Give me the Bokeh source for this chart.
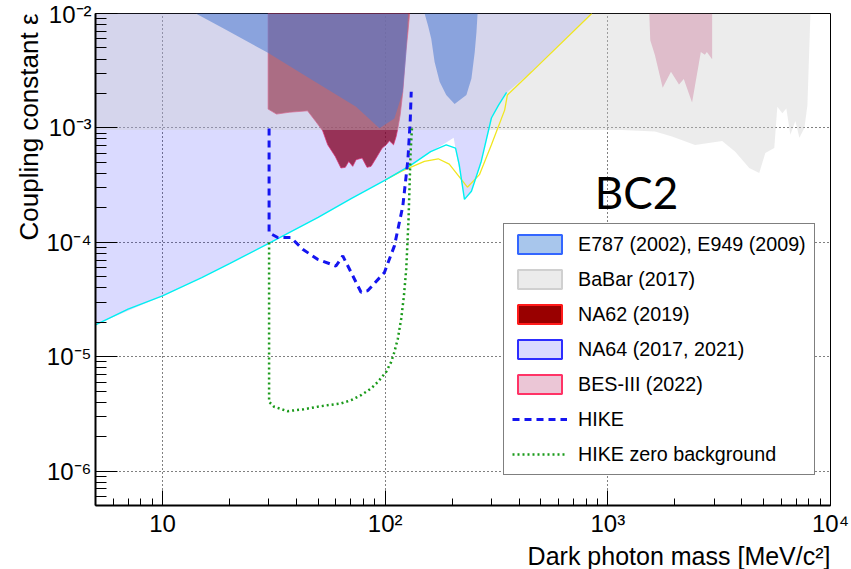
from bokeh.plotting import figure
from bokeh.models import FixedTicker, Legend, LegendItem, Label, Title
from bokeh.embed import file_html
from bokeh.resources import INLINE

# ---------------- exclusion regions (mass in MeV/c^2, coupling epsilon) ----------------
# NA64 (2017) bound, drawn as the cyan curve
na64_mass = [5, 7, 10, 15, 20, 30, 50, 70, 100, 130, 160, 188, 207, 215, 227, 244, 270, 300, 323, 351]
na64_eps = [1.9e-5, 2.6e-5, 3.4e-5, 4.9e-5, 6.5e-5, 9.8e-5, 1.65e-4, 2.4e-4, 3.5e-4, 4.7e-4,
            6.2e-4, 7.1e-4, 6.66e-4, 4.77e-4, 2.37e-4, 2.79e-4, 5.09e-4, 1.22e-3, 1.58e-3, 2.04e-3]

# NA64 (2021) bound, drawn as the yellow curve
na64b_mass = [100, 118, 150, 173, 194, 234, 265, 300, 344, 354, 455, 847]
na64b_eps = [3.5e-4, 4.17e-4, 5.09e-4, 5.37e-4, 4.83e-4, 3.03e-4, 3.9e-4, 7.11e-4, 1.43e-3,
             1.94e-3, 3.09e-3, 1e-2]

# lower edge of the combined NA64 excluded area
na64_fill_mass = [5, 10, 20, 30, 50, 70, 100, 130, 160, 185, 203, 218, 227, 244, 270, 300, 323,
                  351, 455, 847]
na64_fill_eps = [1.9e-5, 3.4e-5, 6.5e-5, 9.8e-5, 1.65e-4, 2.4e-4, 3.5e-4, 4.7e-4, 6.2e-4, 7.3e-4,
                 8.2e-4, 3.7e-4, 2.37e-4, 2.79e-4, 5.09e-4, 1.22e-3, 1.58e-3, 2.04e-3, 3.09e-3, 1e-2]

# BaBar (2017)
babar_mass = [5, 1156, 1628, 1942, 2465, 3262, 3733, 4316, 4786, 5096, 5592, 5770, 6077, 6333,
              6602, 6954, 7249, 7634, 7877, 8126]
babar_eps = [9.6e-4, 9.6e-4, 9.3e-4, 8.4e-4, 7.1e-4, 7.7e-4, 6.2e-4, 4.47e-4, 4.04e-4, 6.03e-4,
             6.66e-4, 1.53e-3, 1.34e-3, 1.48e-3, 8.7e-4, 1.15e-3, 8.2e-4, 1e-3, 1.58e-3, 1e-2]

# NA62 (2019)
na62_mass = [29.8, 29.8, 32.5, 37.1, 44.8, 48.9, 52.4, 55.2, 59.7, 63.3, 66.2, 68.6, 71.5, 74.0,
             78.8, 82.9, 86.4, 91.1, 96.9, 101, 104.5, 109, 112, 114, 116.8, 120, 123.4, 126.5, 128.7]
na62_eps = [1e-2, 1.46e-3, 1.32e-3, 1.37e-3, 1.41e-3, 1.13e-3, 9.42e-4, 7.11e-4, 5.62e-4, 4.46e-4,
            4.52e-4, 5.09e-4, 4.61e-4, 5.27e-4, 5.45e-4, 4.52e-4, 4.61e-4, 5.45e-4, 6.66e-4,
            7.11e-4, 7.71e-4, 7.11e-4, 8.4e-4, 9.94e-4, 1.3e-3, 2.07e-3, 4.31e-3, 6.87e-3, 1e-2]

# E787 (2002), E949 (2009): two separate areas
e787a_mass = [14.1, 18.9, 29.6, 47.2, 74.0, 94.2, 110, 120, 124.3, 126.5]
e787a_eps = [1e-2, 7.36e-3, 4.55e-3, 2.61e-3, 1.53e-3, 9.94e-4, 1.21e-3, 2.07e-3, 4.31e-3, 1e-2]
e787b_mass = [150.3, 155.7, 161, 166.7, 175.6, 188, 205, 231.6, 244, 252.5, 257, 260]
e787b_eps = [1e-2, 7.87e-3, 6.02e-3, 3.77e-3, 2.53e-3, 1.94e-3, 1.62e-3, 1.94e-3, 2.7e-3,
             4.61e-3, 6.87e-3, 1e-2]

# BES-III (2022)
bes_mass = [1535, 1551, 1628, 1763, 1921, 2087, 2193, 2389, 2616, 2726, 2785, 2940, 2940]
bes_eps = [1e-2, 5.83e-3, 4.31e-3, 2.24e-3, 3.09e-3, 2.4e-3, 2.67e-3, 1.67e-3, 4.61e-3, 4.37e-3,
           4.61e-3, 3.98e-3, 1e-2]

# ---------------- HIKE projections ----------------
hike_mass = [30.1, 30.1, 32.9, 37.7, 42.6, 49.7, 60.1, 64.5, 70.3, 77.9, 83.6, 99.2, 110, 120,
             126.5, 129.6, 130.9]
hike_eps = [9.9e-4, 1.21e-4, 1.1e-4, 1.1e-4, 8.7e-5, 7.1e-5, 6.2e-5, 7.6e-5, 5.45e-5, 3.66e-5,
            3.78e-5, 5.45e-5, 9.3e-5, 2.07e-4, 5.27e-4, 1.17e-3, 2.07e-3]

hike0_mass = [30.1, 30.1, 31.7, 36.4, 43.1, 49.7, 57.1, 63.3, 70.3, 77.9, 86.4, 92.7, 101, 106.4,
              110, 114, 118, 121.4, 124.3, 127.3, 130, 131.9]
hike0_eps = [9.94e-5, 4.03e-6, 3.65e-6, 3.34e-6, 3.47e-6, 3.65e-6, 3.8e-6, 3.9e-6, 4.17e-6,
             4.61e-6, 5.27e-6, 6.02e-6, 7.36e-6, 9.0e-6, 1.1e-5, 1.44e-5, 2.14e-5, 3.41e-5,
             5.82e-5, 1.58e-4, 6.03e-4, 9.94e-4]

# ---------------- axes ----------------
X_RANGE = (5, 1e4)
Y_RANGE = (5e-7, 1e-2)
x_major = [10, 100, 1000, 10000]
y_major = [1e-6, 1e-5, 1e-4, 1e-3, 1e-2]
x_tick_labels = {10: "10", 100: "10²", 1000: "10³", 10000: "10⁴"}
y_tick_labels = {1e-6: "10⁻⁶", 1e-5: "10⁻⁵", 1e-4: "10⁻⁴", 1e-3: "10⁻³", 1e-2: "10⁻²"}
x_minor = [m * 10 ** k for k in range(0, 4) for m in range(2, 10) if X_RANGE[0] < m * 10 ** k < X_RANGE[1]]
y_minor = [m * 10.0 ** k for k in range(-7, -2) for m in range(2, 10) if Y_RANGE[0] < m * 10.0 ** k < Y_RANGE[1]]

FONT = "Liberation Sans"

p = figure(width=851, height=569, x_axis_type="log", y_axis_type="log",
           x_range=X_RANGE, y_range=Y_RANGE, output_backend="svg", toolbar_location=None,
           min_border_left=95, min_border_right=21, min_border_top=13, min_border_bottom=62)
p.background_fill_color = "white"
p.border_fill_color = "white"
p.outline_line_color = "black"
p.outline_line_width = 1

top = Y_RANGE[1]
left = X_RANGE[0]

# filled areas, bottom to top
p.patch(na62_mass, na62_eps, fill_color="#990000", fill_alpha=0.77,
        line_color="#ff3355", line_alpha=0.7, line_width=1)
p.patch(e787a_mass, e787a_eps, fill_color="#0055cc", fill_alpha=0.55, line_color=None)
p.patch(e787b_mass, e787b_eps, fill_color="#0055cc", fill_alpha=0.55, line_color=None)
p.patch(na64_fill_mass + [left], na64_fill_eps + [top], fill_color="#0000ff", fill_alpha=0.145,
        line_color=None)
p.patch(babar_mass + [left], babar_eps + [top], fill_color="#cccccc", fill_alpha=0.38,
        line_color=None)
p.patch(bes_mass, bes_eps, fill_color="#c0507f", fill_alpha=0.3, line_color=None)

# NA64 bound curves
p.line(na64b_mass, na64b_eps, line_color="#f0e620", line_width=1.3)
p.line(na64_mass, na64_eps, line_color="#00f0f0", line_width=1.4)

# HIKE projections
hike = p.line(hike_mass, hike_eps, line_color="#1515f0", line_width=3, line_dash="7 5")
hike0 = p.line(hike0_mass, hike0_eps, line_color="#1a9a1a", line_width=2.5, line_dash="2 3")

# legend swatches: hidden copies of the areas, styled as boxed legend entries
def swatch(xs, ys, fill, edge):
    return p.patch(xs, ys, fill_color=fill, line_color=edge, line_width=2, visible=False)

sw_e787 = swatch(e787a_mass, e787a_eps, "#a8c6ec", "#3366ff")
sw_babar = swatch(babar_mass, babar_eps, "#ebebeb", "#d0d0d0")
sw_na62 = swatch(na62_mass, na62_eps, "#990000", "#ff1a1a")
sw_na64 = swatch(na64_fill_mass, na64_fill_eps, "#dadaff", "#2d2dff")
sw_bes = swatch(bes_mass, bes_eps, "#ebc6d6", "#ff3366")

legend = Legend(items=[
    LegendItem(label="E787 (2002), E949 (2009)", renderers=[sw_e787]),
    LegendItem(label="BaBar (2017)", renderers=[sw_babar]),
    LegendItem(label="NA62 (2019)", renderers=[sw_na62]),
    LegendItem(label="NA64 (2017, 2021)", renderers=[sw_na64]),
    LegendItem(label="BES-III (2022)", renderers=[sw_bes]),
    LegendItem(label="HIKE", renderers=[hike]),
    LegendItem(label="HIKE zero background", renderers=[hike0]),
], location=(408, 30))
legend.glyph_width = 55
legend.glyph_height = 24
legend.label_height = 24
legend.label_standoff = 11
legend.spacing = 11
legend.padding = 8
legend.margin = 0
legend.label_text_font = FONT
legend.label_text_font_size = "19.7px"
legend.label_text_color = "black"
legend.border_line_color = "black"
legend.border_line_width = 1
legend.background_fill_color = "white"
legend.background_fill_alpha = 1.0
legend.inactive_fill_alpha = 0.0
p.add_layout(legend)

# text in the frame
bc2_mass, bc2_eps = 874, 2.77e-4
p.add_layout(Label(x=bc2_mass, y=bc2_eps, text="BC2", text_font="Lato",
                   text_font_size="44px", text_color="black", text_baseline="middle"))

# axes
p.xaxis.ticker = FixedTicker(ticks=x_major, minor_ticks=x_minor)
p.yaxis.ticker = FixedTicker(ticks=y_major, minor_ticks=y_minor)
p.xaxis.major_label_overrides = x_tick_labels
p.yaxis.major_label_overrides = y_tick_labels
for ax in (p.xaxis, p.yaxis):
    ax.axis_line_width = 2
    ax.axis_line_color = "black"
    ax.major_tick_out = 0
    ax.minor_tick_out = 0
    ax.major_tick_line_color = "black"
    ax.minor_tick_line_color = "black"
    ax.major_label_text_font = FONT
    ax.major_label_text_font_size = "24px"
    ax.major_label_text_color = "black"
p.xaxis.major_tick_in = 15
p.xaxis.minor_tick_in = 7
p.yaxis.major_tick_in = 22
p.yaxis.minor_tick_in = 11
p.xaxis.major_label_standoff = 4
p.yaxis.major_label_standoff = 4

p.xgrid.ticker = FixedTicker(ticks=x_major)
p.ygrid.ticker = FixedTicker(ticks=y_major)
for g in (p.xgrid, p.ygrid):
    g.grid_line_color = "black"
    g.grid_line_dash = "1 3"
    g.grid_line_width = 1

# axis titles at the far ends of the axes
p.add_layout(Title(text="Dark photon mass [MeV/c²]", align="right", text_font=FONT,
                   text_font_size="25px", text_font_style="normal", text_color="black",
                   standoff=0), "below")
p.add_layout(Title(text="Coupling constant ε", align="right", text_font=FONT,
                   text_font_size="26px", text_font_style="normal", text_color="black",
                   standoff=0), "left")

open("out.html", "w").write(file_html(p, INLINE))
